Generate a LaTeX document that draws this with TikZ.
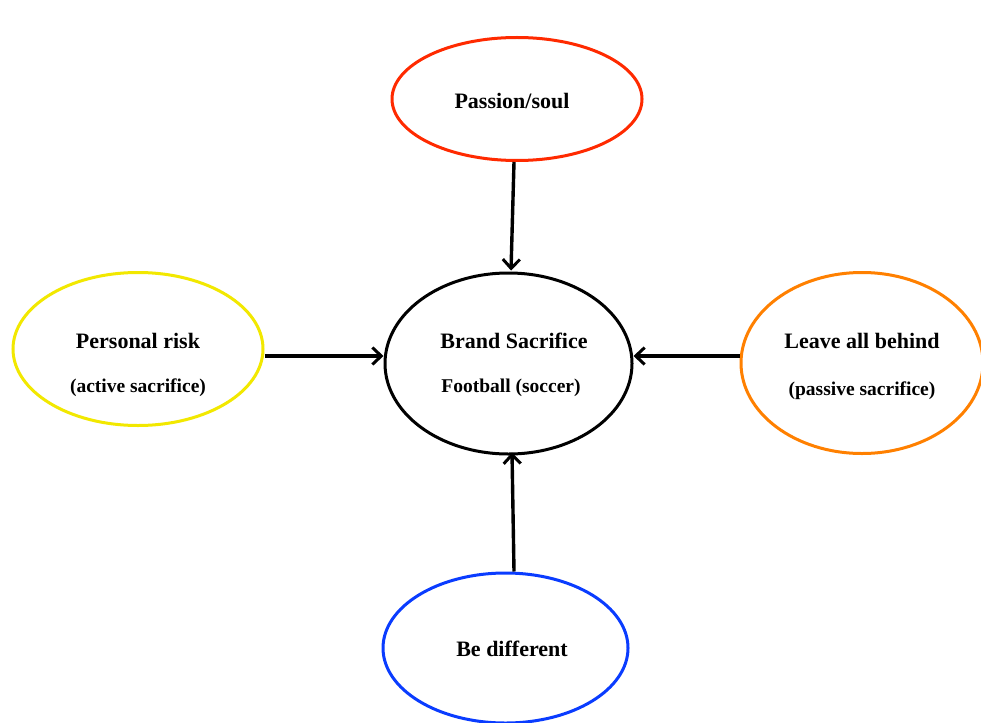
\documentclass[tikz,border=0pt]{standalone}
\usepackage{fontspec}
\setmainfont{Liberation Serif}
\usetikzlibrary{shapes.geometric,arrows.meta}
\definecolor{passred}{HTML}{FF2A00}
\definecolor{riskyellow}{HTML}{F2E800}
\definecolor{leaveorange}{HTML}{FF8000}
\definecolor{diffblue}{HTML}{0A3CFF}
\tikzset{
  oval/.style={ellipse, draw, line width=3pt, fill=white, inner sep=0pt},
  maintext/.style={font=\fontsize{22}{26}\selectfont\bfseries, inner sep=0pt},
  subtext/.style={font=\fontsize{19.5}{23}\selectfont\bfseries, inner sep=0pt},
  flow/.style={line width=3.4pt, -{Straight Barb[length=9pt,width=17pt,line width=3pt]}}
}
\begin{document}
\begin{tikzpicture}[x=1pt,y=-1pt]
\useasboundingbox (0,0) rectangle (981,722);
% central concept
\node[oval, minimum width=247pt, minimum height=181pt] (brand) at (508.5,363.5) {};
\node[maintext] (brandT) at (514,341) {Brand Sacrifice};
\node[subtext] (brandS) at (511,388) {Football (soccer)};
% surrounding drivers
\node[oval, draw=passred, minimum width=250pt, minimum height=123pt] (pass) at (517,99) {};
\node[maintext] (passT) at (512,101) {Passion/soul};
\node[oval, draw=riskyellow, minimum width=250pt, minimum height=153pt] (risk) at (138,349) {};
\node[maintext] (riskT) at (138,341) {Personal risk};
\node[subtext] (riskS) at (138,388) {(active sacrifice)};
\node[oval, draw=leaveorange, minimum width=242pt, minimum height=181pt] (leave) at (862,363) {};
\node[maintext] (leaveT) at (862,341) {Leave all behind};
\node[subtext] (leaveS) at (862,391) {(passive sacrifice)};
\node[oval, draw=diffblue, minimum width=245pt, minimum height=150pt] (diff) at (505.5,648) {};
\node[maintext] (diffT) at (512,649) {Be different};
% arrows into the central concept
\draw[flow] (pass.south -| 514,0) -- ([yshift=1pt]brand.north -| 511,0);
\draw[flow] (risk.east |- 0,356) -- (brand.west |- 0,356);
\draw[flow] (leave.west |- 0,356) -- (brand.east |- 0,356);
\draw[flow] (diff.north -| 514,0) -- ([yshift=3pt]brand.south -| 512,0);
\end{tikzpicture}
\end{document}
